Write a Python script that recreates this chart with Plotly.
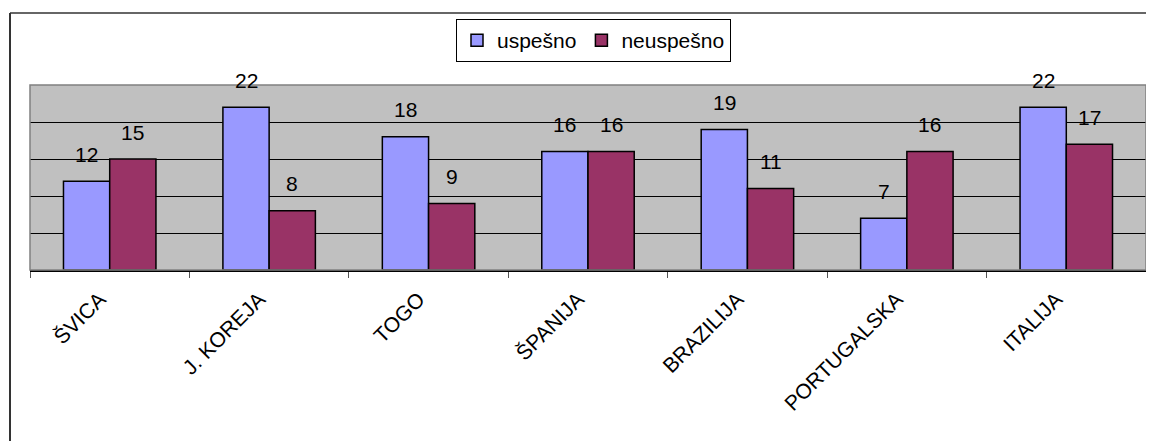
import plotly.graph_objects as go

# podaci
drzave = ["ŠVICA", "J. KOREJA", "TOGO", "ŠPANIJA", "BRAZILIJA", "PORTUGALSKA", "ITALIJA"]
uspesno = [12, 22, 18, 16, 19, 7, 22]
neuspesno = [15, 8, 9, 16, 11, 16, 17]

# stranica ima marginu od 8px, zato figura pocinje na (8, 8)
OFF = 8
W, H = 1154 - OFF, 441 - OFF
L, T = 30 - OFF, 85 - OFF
R = W - (1146 - OFF)
B = H - (270 - OFF)
pw, ph = W - L - R, H - T - B


def px(x):
    return (x - OFF - L) / pw


def py(y):
    return (H - B - (y - OFF)) / ph


font = "Liberation Sans, Arial, sans-serif"

fig = go.Figure()
fig.add_trace(go.Bar(x=drzave, y=uspesno, name="uspešno",
                     marker=dict(color="#9999FF", line=dict(color="black", width=1.5))))
fig.add_trace(go.Bar(x=drzave, y=neuspesno, name="neuspešno",
                     marker=dict(color="#993366", line=dict(color="black", width=1.5))))

# oznake vrednosti iznad stubova
bar_off = pw / len(drzave) * 0.58 / 4
for vals, sh in ((uspesno, -bar_off), (neuspesno, bar_off)):
    for d, v in zip(drzave, vals):
        fig.add_annotation(x=d, y=v, text=str(v), showarrow=False, xshift=sh,
                           yshift=27, yanchor="middle",
                           font=dict(size=21, color="black", family=font))

fig.update_layout(
    width=W, height=H,
    margin=dict(l=L, r=R, t=T, b=B),
    paper_bgcolor="white", plot_bgcolor="#C0C0C0",
    barmode="group", bargap=0.42, bargroupgap=0,
    font=dict(family=font, size=21, color="black"),
    legend=dict(orientation="h", x=px(456), y=py(19), xanchor="left", yanchor="top",
                bordercolor="black", borderwidth=1, bgcolor="white",
                font=dict(size=21), traceorder="normal", itemwidth=30),
    shapes=[
        dict(type="rect", xref="paper", yref="paper", x0=0, x1=1, y0=0, y1=1,
             line=dict(color="#808080", width=1.5), layer="above"),
        dict(type="line", xref="paper", yref="paper", x0=px(10), x1=px(10),
             y0=py(13), y1=py(441), line=dict(color="#333333", width=2)),
        dict(type="line", xref="paper", yref="paper", x0=px(10), x1=px(1154),
             y0=py(13), y1=py(13), line=dict(color="#333333", width=1.5)),
    ],
)
fig.update_xaxes(tickangle=-45, ticks="outside", tickson="boundaries", ticklen=6,
                 tickcolor="#555555", showline=True, linecolor="black", linewidth=1.5,
                 ticklabelshift=-10, ticklabelstandoff=7,
                 tickfont=dict(size=21, color="black"), showgrid=False)
fig.update_yaxes(range=[0, 25], dtick=5, showgrid=True, gridcolor="black", gridwidth=1,
                 showticklabels=False, zeroline=False, showline=False)

fig.write_html("out.html")
